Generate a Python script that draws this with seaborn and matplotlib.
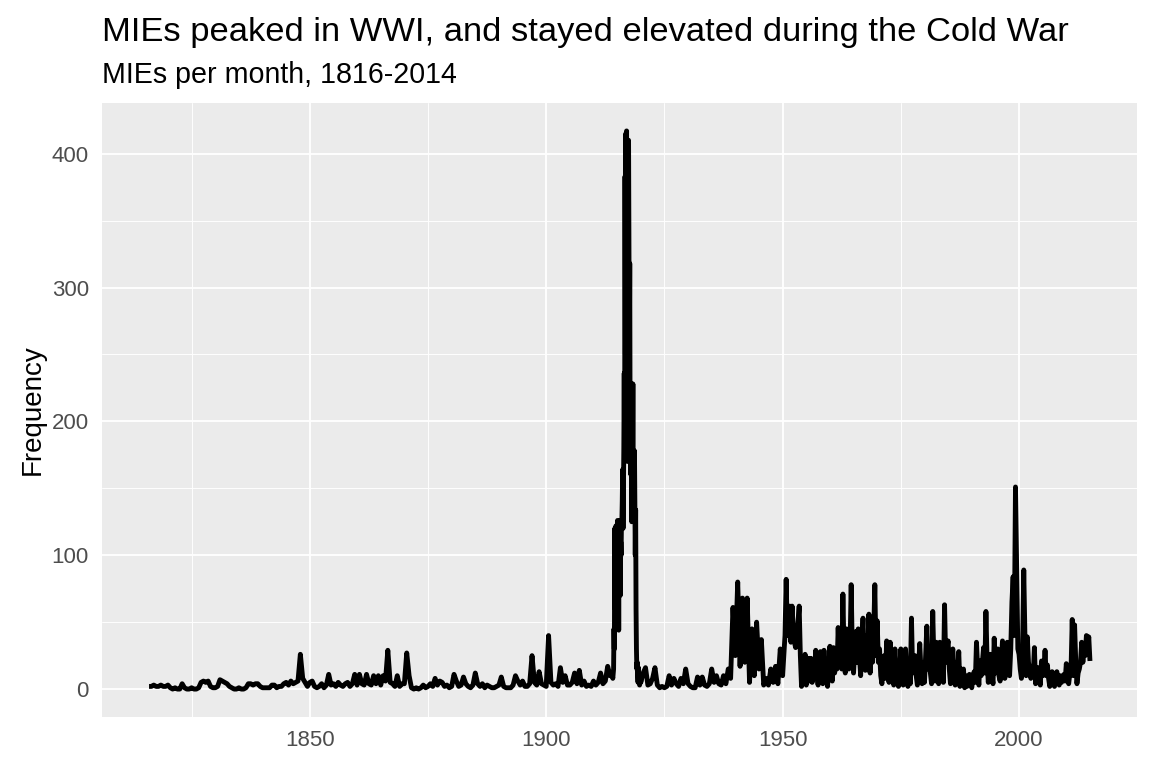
import numpy as np
import pandas as pd
import matplotlib
matplotlib.use("Agg")
import matplotlib.pyplot as plt
import seaborn as sns

# MIEs per month
# 1816-1913, two readings per year
years_early = np.arange(1816, 1914, 0.5)
mies_early = [
    2, 2, 3, 2, 2, 3, 2, 2, 3, 1, 0, 1, 0, 0, 4, 1, 0, 0, 1, 0,   # 1816-1825
    0, 1, 5, 6, 5, 6, 2, 1, 1, 2, 7, 6, 5, 4, 2, 1, 0, 0, 1, 0,   # 1826-1835
    0, 1, 4, 4, 3, 4, 4, 2, 1, 1, 1, 1, 3, 3, 1, 2, 2, 4, 5, 3,   # 1836-1845
    6, 4, 5, 6, 26, 8, 5, 2, 5, 6, 2, 1, 2, 4, 1, 3, 11, 3, 4, 2,  # 1846-1855
    5, 3, 2, 4, 5, 2, 4, 11, 3, 11, 4, 3, 11, 4, 3, 10, 4, 10, 3, 10,  # 1856-1865
    6, 29, 5, 4, 2, 10, 2, 4, 4, 27, 10, 1, 0, 1, 0, 1, 3, 1, 2, 4,  # 1866-1875
    2, 8, 3, 6, 5, 2, 3, 1, 2, 11, 6, 2, 3, 9, 4, 2, 1, 3, 12, 4,  # 1876-1885
    2, 4, 1, 3, 2, 1, 1, 2, 3, 9, 2, 1, 1, 1, 3, 10, 6, 3, 6, 2,   # 1886-1895
    2, 4, 25, 5, 3, 13, 4, 3, 2, 40, 5, 3, 4, 2, 16, 5, 10, 3, 3, 5,  # 1896-1905
    12, 4, 14, 3, 6, 2, 3, 2, 6, 3, 5, 12, 4, 6, 17, 10,           # 1906-1913
]

# 1914-1919, monthly readings around the WWI peak
years_wwi = 1914 + np.arange(72) / 12
mies_wwi = [
    10, 8, 12, 15, 45, 30, 120, 60, 100, 122, 50, 110,
    80, 126, 60, 115, 44, 120, 90, 126, 70, 110, 100, 125,
    125, 140, 164, 120, 150, 180, 236, 170, 383, 250, 415, 380,
    417, 300, 380, 170, 290, 410, 330, 250, 318, 180, 228, 160,
    228, 125, 200, 170, 228, 150, 178, 130, 178, 134, 100, 134,
    60, 30, 15, 20, 10, 5, 16, 8, 5, 3, 6, 10,
]

# 1920-1949, two readings per year
years_interwar = np.arange(1920, 1950, 0.5)
mies_interwar = [
    5, 12, 16, 3, 4, 8, 16, 3, 1, 2, 1, 2, 10, 3, 8, 4, 2, 8, 4, 15,    # 1920-1929
    4, 2, 1, 1, 9, 3, 9, 3, 2, 4, 15, 5, 10, 4, 3, 10, 4, 15, 8, 61,    # 1930-1939
    25, 80, 17, 68, 20, 68, 5, 45, 10, 50, 15, 37, 3, 8, 3, 15, 5, 17, 4, 30,  # 1940-1949
]

# 1950-2015, four readings per year (dense Cold War band)
years_cold = np.arange(1950, 2015.1, 0.25)
mies_cold = [
    10, 25, 40, 82, 40, 55, 62, 35, 62, 45, 35, 31, 40, 50, 62, 25,     # 1950-1953
    2, 10, 5, 26, 3, 12, 23, 6, 23, 5, 12, 8, 29, 10, 3, 15,            # 1954-1957
    28, 12, 4, 29, 10, 18, 2, 15, 32, 15, 6, 31, 12, 25, 15, 46,        # 1958-1961
    20, 30, 15, 71, 25, 12, 45, 20, 15, 30, 78, 25, 12, 30, 43, 20,     # 1962-1965
    45, 25, 10, 35, 53, 25, 14, 40, 20, 56, 12, 35, 20, 40, 78, 25,     # 1966-1969
    51, 20, 30, 10, 4, 20, 25, 8, 36, 15, 5, 35, 12, 20, 3, 30,         # 1970-1973
    10, 20, 2, 15, 30, 12, 3, 20, 30, 10, 2, 15, 4, 53, 12, 20,         # 1974-1977
    25, 10, 3, 15, 34, 15, 4, 20, 5, 25, 47, 15, 20, 12, 4, 58,         # 1978-1981
    20, 6, 35, 15, 4, 35, 10, 25, 5, 63, 20, 30, 36, 15, 4, 25,         # 1982-1985
    30, 12, 3, 20, 10, 28, 2, 15, 5, 15, 1, 10, 2, 8, 11, 5,            # 1986-1989
    1, 8, 13, 5, 35, 15, 3, 21, 10, 20, 31, 12, 58, 20, 5, 18,          # 1990-1993
    26, 10, 4, 38, 12, 20, 30, 10, 6, 20, 36, 15, 8, 20, 35, 15,        # 1994-1997
    10, 30, 65, 84, 40, 151, 89, 30, 26, 15, 8, 30, 89, 39, 10, 39,     # 1998-2001
    20, 14, 8, 15, 10, 31, 4, 15, 16, 8, 3, 21, 10, 12, 29, 10,         # 2002-2005
    18, 8, 2, 10, 13, 5, 2, 10, 13, 6, 3, 10, 5, 8, 11, 6,              # 2006-2009
    19, 8, 4, 12, 15, 52, 10, 48, 20, 4, 12, 15, 20, 35, 20, 30,        # 2010-2013
    25, 40, 30, 39, 21,                                                 # 2014-2015
]

df = pd.DataFrame({
    'year': np.concatenate([years_early, years_wwi, years_interwar, years_cold]),
    'mies': mies_early + mies_wwi + mies_interwar + mies_cold,
})

sns.set_style("darkgrid", {"axes.facecolor": "#EBEBEB", "grid.color": "white"})
plt.rcParams['font.family'] = ['Liberation Sans', 'DejaVu Sans']

fig = plt.figure(figsize=(11.52, 7.68), dpi=100)
ax = fig.add_axes([102 / 1152, 51 / 768, 1035 / 1152, 614 / 768])

sns.lineplot(data=df, x='year', y='mies', color='black', linewidth=3.5,
             estimator=None, sort=False, ax=ax, solid_capstyle='butt')

# ggplot style 5% expansion
xr = df['year'].max() - df['year'].min()
ax.set_xlim(df['year'].min() - 0.05 * xr, df['year'].max() + 0.05 * xr)
yr = df['mies'].max() - df['mies'].min()
ax.set_ylim(df['mies'].min() - 0.05 * yr, df['mies'].max() + 0.05 * yr)

ax.set_xticks([1850, 1900, 1950, 2000])
ax.set_xticks([1825, 1875, 1925, 1975], minor=True)
ax.set_yticks([0, 100, 200, 300, 400])
ax.set_yticks([50, 150, 250, 350], minor=True)
ax.grid(which='major', color='white', linewidth=1.3)
ax.grid(which='minor', color='white', linewidth=0.65)
for s in ax.spines.values():
    s.set_visible(False)

ax.tick_params(which='major', length=5.2, width=1.1, color='#333333',
               labelsize=16, labelcolor='#4D4D4D', pad=4.2)
ax.tick_params(which='minor', length=0)

ax.set_xlabel('')
ax.set_ylabel('Frequency', fontsize=20, color='black')
ax.yaxis.set_label_coords(-0.054, 0.5)

fig.text(102 / 1152, 1 - 41 / 768, 'MIEs peaked in WWI, and stayed elevated during the Cold War',
         fontsize=24.8, color='black', ha='left', va='baseline')
fig.text(102 / 1152, 1 - 83 / 768, 'MIEs per month, 1816-2014',
         fontsize=20.6, color='black', ha='left', va='baseline')

fig.savefig('out.png', dpi=100)
